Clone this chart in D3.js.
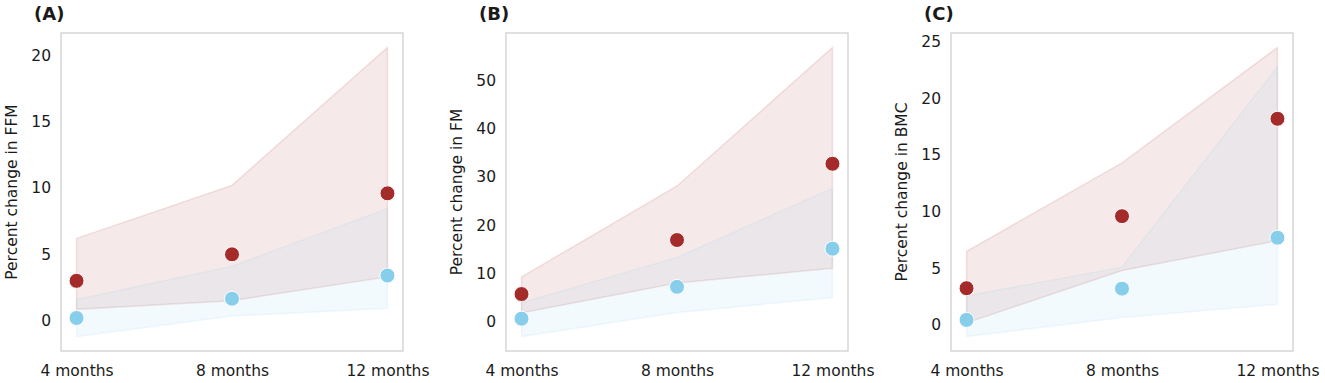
<!DOCTYPE html>
<html>
<head>
<meta charset="utf-8">
<script src="https://cdn.jsdelivr.net/npm/d3@7"></script>
<style>
  body { margin: 0; background: #fff; }
  text { font-family: "DejaVu Sans", sans-serif; }
</style>
</head>
<body>
<div id="chart"></div>
<script>
var w = 1325;
var h = 383;

// Shared categories
var months = ["4 months", "8 months", "12 months"];

// Panel A - FFM
var ffmRed = [3.0, 5.0, 9.6];
var ffmRedLow = [0.85, 1.5, 3.3];
var ffmRedHigh = [6.2, 10.2, 20.6];
var ffmBlue = [0.2, 1.65, 3.4];
var ffmBlueLow = [-1.2, 0.35, 0.93];
var ffmBlueHigh = [1.6, 4.1, 8.45];
var ffmTicks = [0, 5, 10, 15, 20];

// Panel B - FM
var fmRed = [5.7, 16.9, 32.7];
var fmRedLow = [1.8, 8.0, 11.05];
var fmRedHigh = [9.25, 28.1, 56.8];
var fmBlue = [0.6, 7.2, 15.1];
var fmBlueLow = [-3.1, 1.86, 5.0];
var fmBlueHigh = [3.9, 13.3, 27.6];
var fmTicks = [0, 10, 20, 30, 40, 50];

// Panel C - BMC
var bmcRed = [3.24, 9.6, 18.2];
var bmcRedLow = [0.18, 4.8, 7.44];
var bmcRedHigh = [6.5, 14.3, 24.5];
var bmcBlue = [0.44, 3.2, 7.7];
var bmcBlueLow = [-1.03, 0.65, 1.82];
var bmcBlueHigh = [2.56, 5.1, 22.8];
var bmcTicks = [0, 5, 10, 15, 20, 25];

var panels = [
    { tag: "(A)", label: "Percent change in FFM", left: 61, red: ffmRed, redLow: ffmRedLow, redHigh: ffmRedHigh,
      blue: ffmBlue, blueLow: ffmBlueLow, blueHigh: ffmBlueHigh, ticks: ffmTicks, labelX: 12, tagX: 34 },
    { tag: "(B)", label: "Percent change in FM", left: 506, red: fmRed, redLow: fmRedLow, redHigh: fmRedHigh,
      blue: fmBlue, blueLow: fmBlueLow, blueHigh: fmBlueHigh, ticks: fmTicks, labelX: 457, tagX: 479 },
    { tag: "(C)", label: "Percent change in BMC", left: 951, red: bmcRed, redLow: bmcRedLow, redHigh: bmcRedHigh,
      blue: bmcBlue, blueLow: bmcBlueLow, blueHigh: bmcBlueHigh, ticks: bmcTicks, labelX: 902, tagX: 924 }
];

var redColor = "#a52a2a";
var blueColor = "#87ceeb";
var textColor = "#1a1a1a";
var plotW = 342;
var plotTop = 33;
var plotBottom = 351;

var svg = d3.select("#chart")
    .append("svg")
    .attr("width", w)
    .attr("height", h);

panels.forEach(function (p) {
    var g = svg.append("g");

    // x: index positions with 5% margin like matplotlib
    var x = d3.scaleLinear()
        .domain([-0.1, 2.1])
        .range([p.left, p.left + plotW]);

    var lo = d3.min(p.redLow.concat(p.blueLow, p.red, p.blue));
    var hi = d3.max(p.redHigh.concat(p.blueHigh, p.red, p.blue));
    var pad = (hi - lo) * 0.05;
    var y = d3.scaleLinear()
        .domain([lo - pad, hi + pad])
        .range([plotBottom, plotTop]);

    var idx = [0, 1, 2];

    function band(low, high, color) {
        var area = d3.area()
            .x(function (i) { return x(i); })
            .y0(function (i) { return y(low[i]); })
            .y1(function (i) { return y(high[i]); });
        g.append("path")
            .attr("d", area(idx))
            .attr("fill", color)
            .attr("fill-opacity", 0.1)
            .attr("stroke", color)
            .attr("stroke-opacity", 0.12)
            .attr("stroke-width", 1.5);
    }

    band(p.redLow, p.redHigh, redColor);
    band(p.blueLow, p.blueHigh, blueColor);

    // frame
    g.append("rect")
        .attr("x", p.left)
        .attr("y", plotTop)
        .attr("width", plotW)
        .attr("height", plotBottom - plotTop)
        .attr("fill", "none")
        .attr("stroke", "#cccccc")
        .attr("stroke-width", 1.2);

    // y axis
    var yAxis = d3.axisLeft(y).tickValues(p.ticks).tickSize(0).tickPadding(10);
    var ya = g.append("g").attr("transform", "translate(" + p.left + ",0)").call(yAxis);
    ya.select(".domain").remove();
    ya.selectAll("text").attr("font-size", 15.5).attr("fill", textColor)
        .style("font-family", "DejaVu Sans, sans-serif");

    // x axis
    var xAxis = d3.axisBottom(x).tickValues(idx).tickFormat(function (i) { return months[i]; })
        .tickSize(0).tickPadding(14);
    var xa = g.append("g").attr("transform", "translate(0," + plotBottom + ")").call(xAxis);
    xa.select(".domain").remove();
    xa.selectAll("text").attr("font-size", 15.5).attr("fill", textColor)
        .style("font-family", "DejaVu Sans, sans-serif");

    // y label
    g.append("text")
        .attr("transform", "translate(" + p.labelX + "," + ((plotTop + plotBottom) / 2) + ") rotate(-90)")
        .attr("text-anchor", "middle")
        .attr("dominant-baseline", "central")
        .attr("font-size", 15.5)
        .attr("fill", textColor)
        .text(p.label);

    // panel tag
    g.append("text")
        .attr("x", p.tagX)
        .attr("y", 20)
        .attr("font-size", 18)
        .attr("font-weight", "bold")
        .attr("fill", textColor)
        .text(p.tag);

    function dots(vals, color) {
        g.selectAll(null)
            .data(idx)
            .enter()
            .append("circle")
            .attr("cx", function (i) { return x(i); })
            .attr("cy", function (i) { return y(vals[i]); })
            .attr("r", 7.5)
            .attr("fill", color)
            .attr("stroke", "#fff")
            .attr("stroke-width", 1);
    }

    dots(p.red, redColor);
    dots(p.blue, blueColor);
});
</script>
</body>
</html>
